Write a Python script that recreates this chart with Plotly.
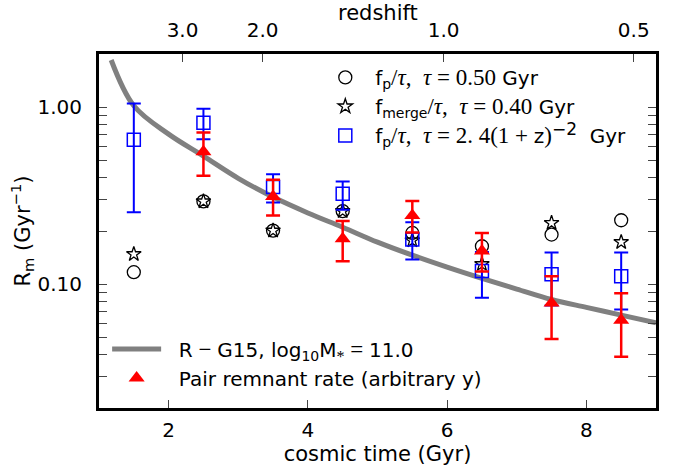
import plotly.graph_objects as go

# ---- data ----
t_bins = [1.5, 2.5, 3.5, 4.5, 5.5, 6.5, 7.5, 8.5]
rate_fp_050 = [0.117, 0.294, 0.201, 0.259, 0.195, 0.164, 0.191, 0.230]
rate_fmerge_040 = [0.148, 0.294, 0.201, 0.259, 0.177, 0.130, 0.222, 0.173]
rate_fp_var = [0.655, 0.817, 0.354, 0.325, 0.179, 0.119, 0.114, 0.111]
rate_fp_var_hi = [1.05, 0.98, 0.419, 0.381, 0.224, 0.152, 0.151, 0.151]
rate_fp_var_lo = [0.255, 0.66, 0.29, 0.264, 0.138, 0.084, 0.076, 0.072]

t_remnant = [2.5, 3.5, 4.5, 5.5, 6.5, 7.5, 8.5]
remnant = [0.56, 0.313, 0.181, 0.245, 0.154, 0.0785, 0.0626]
remnant_hi = [0.72, 0.39, 0.228, 0.295, 0.195, 0.111, 0.089]
remnant_lo = [0.41, 0.245, 0.135, 0.196, 0.118, 0.049, 0.039]

t_g15 = [1.175, 1.5, 2.0, 2.5, 3.0, 3.5, 4.0, 4.5, 5.0, 5.5, 6.0, 6.5, 7.0, 7.5, 8.0, 8.5, 9.0]
r_g15 = [1.85, 1.02, 0.705, 0.53, 0.397, 0.311, 0.253, 0.21, 0.173, 0.146, 0.125, 0.108, 0.094, 0.082, 0.074, 0.067, 0.0605]

z_tick_time = [2.20, 3.35, 5.95, 8.68]
z_tick_text = ["3.0", "2.0", "1.0", "0.5"]

x_ticks = [2, 4, 6, 8]
y_ticks = [0.1, 1.0]
y_tick_text = ["0.10", "1.00"]
y_minor = [0.02, 0.03, 0.04, 0.05, 0.06, 0.07, 0.08, 0.09,
           0.2, 0.3, 0.4, 0.5, 0.6, 0.7, 0.8, 0.9, 2.0]

FONT = "DejaVu Sans"
MATH = "Liberation Serif"
NB = "\u00a0"

def m(s):
    return f'<span style="font-family:{MATH};font-size:23px">{s}</span>'

def mi(s):
    return f'<span style="font-family:{MATH};font-size:23px"><i>{s}</i></span>'

lab_circ = NB + "f<sub>p</sub>" + m("/") + mi("τ") + m(",  ") + mi("τ") + m(" = 0.50") + " Gyr"
lab_star = NB + "f<sub>merge</sub>" + m("/") + mi("τ") + m(",  ") + mi("τ") + m(" = 0.40") + " Gyr"
lab_sq = (NB + "f<sub>p</sub>" + m("/") + mi("τ") + m(",  ") + mi("τ") + m(" = 2. 4(1 + ")
          + "z" + m(")") + '<sup><span style="font-size:17px">−2</span></sup>' + NB + " Gyr")
lab_g15 = NB + NB + "R" + m(" − ") + "G15, log<sub>10</sub>M" + m("<sub>*</sub> = ") + "11.0"
lab_rem = NB + NB + "Pair remnant rate (arbitrary y)"

fig = go.Figure()

fig.add_trace(go.Scatter(
    x=t_g15, y=r_g15, mode="lines", line=dict(color="#808080", width=5, shape="spline"),
    name=lab_g15, legend="legend2"))

fig.add_trace(go.Scatter(
    x=t_bins, y=rate_fp_050, mode="markers",
    marker=dict(symbol="circle-open", size=13, color="black", line=dict(width=1.3)),
    name=lab_circ, legend="legend"))

fig.add_trace(go.Scatter(
    x=t_bins, y=rate_fmerge_040, mode="markers",
    marker=dict(symbol="star-open", size=11, color="black", line=dict(width=1.3)),
    name=lab_star, legend="legend"))

fig.add_trace(go.Scatter(
    x=t_bins, y=rate_fp_var, mode="markers",
    marker=dict(symbol="square-open", size=13, color="blue", line=dict(width=1.5)),
    error_y=dict(type="data", symmetric=False,
                 array=[h - v for h, v in zip(rate_fp_var_hi, rate_fp_var)],
                 arrayminus=[v - l for l, v in zip(rate_fp_var_lo, rate_fp_var)],
                 color="blue", thickness=2, width=7),
    name=lab_sq, legend="legend"))

fig.add_trace(go.Scatter(
    x=t_remnant, y=remnant, mode="markers",
    marker=dict(symbol="triangle-up", size=14, color="red"),
    error_y=dict(type="data", symmetric=False,
                 array=[h - v for h, v in zip(remnant_hi, remnant)],
                 arrayminus=[v - l for l, v in zip(remnant_lo, remnant)],
                 color="red", thickness=2.5, width=7),
    name=lab_rem, legend="legend2"))

# invisible trace for the top redshift axis
fig.add_trace(go.Scatter(x=[1, 9], y=[0.5, 0.5], xaxis="x2", mode="markers",
                         marker=dict(opacity=0), showlegend=False, hoverinfo="skip"))

fig.update_layout(
    width=673, height=469,
    margin=dict(l=98.5, r=16.5, t=53.5, b=61.3),
    paper_bgcolor="white", plot_bgcolor="white",
    font=dict(family=FONT, size=19, color="black"),
    xaxis=dict(range=[1, 9], tickvals=x_ticks, ticks="inside", ticklen=8, tickwidth=1.3,
               showline=True, linewidth=3, linecolor="black", mirror=True,
               showgrid=False, zeroline=False, automargin=False,
               tickfont=dict(size=20), ticklabelstandoff=2,
               title=dict(text="cosmic time (Gyr)", standoff=4, font=dict(size=21))),
    xaxis2=dict(range=[1, 9], overlaying="x", side="top", tickvals=z_tick_time,
                ticktext=z_tick_text, ticks="inside", ticklen=8, tickwidth=1.3,
                showgrid=False, zeroline=False, showline=False, automargin=False,
                tickfont=dict(size=20), ticklabelstandoff=12),
    yaxis=dict(type="log", range=[-1.69897, 0.30103], tickvals=y_ticks, ticktext=y_tick_text,
               ticks="inside", ticklen=8, tickwidth=1.3,
               minor=dict(tickvals=y_minor, ticks="inside", ticklen=4, tickwidth=1.3,
                          showgrid=False),
               showline=True, linewidth=3, linecolor="black", mirror="allticks",
               showgrid=False, zeroline=False, automargin=False,
               tickfont=dict(size=20), ticklabelstandoff=10,
               title=dict(text="R<sub>m</sub> (Gyr<sup>−1</sup>)", standoff=0, font=dict(size=21))),
    annotations=[dict(text="redshift", xref="paper", yref="paper", x=0.5, y=1.0,
                      xanchor="center", yanchor="middle", yshift=41.5, showarrow=False,
                      font=dict(size=21))],
    legend=dict(x=0.400, y=0.989, xanchor="left", yanchor="top", bgcolor="rgba(0,0,0,0)",
                font=dict(size=20), tracegroupgap=0, itemwidth=37),
    legend2=dict(x=0.0146, y=0.03, xanchor="left", yanchor="bottom", bgcolor="rgba(0,0,0,0)",
                 font=dict(size=20), itemwidth=49),
    showlegend=True,
)

fig.write_html("out.html", post_script="document.body.style.margin='0';",
               config={"displayModeBar": False})
